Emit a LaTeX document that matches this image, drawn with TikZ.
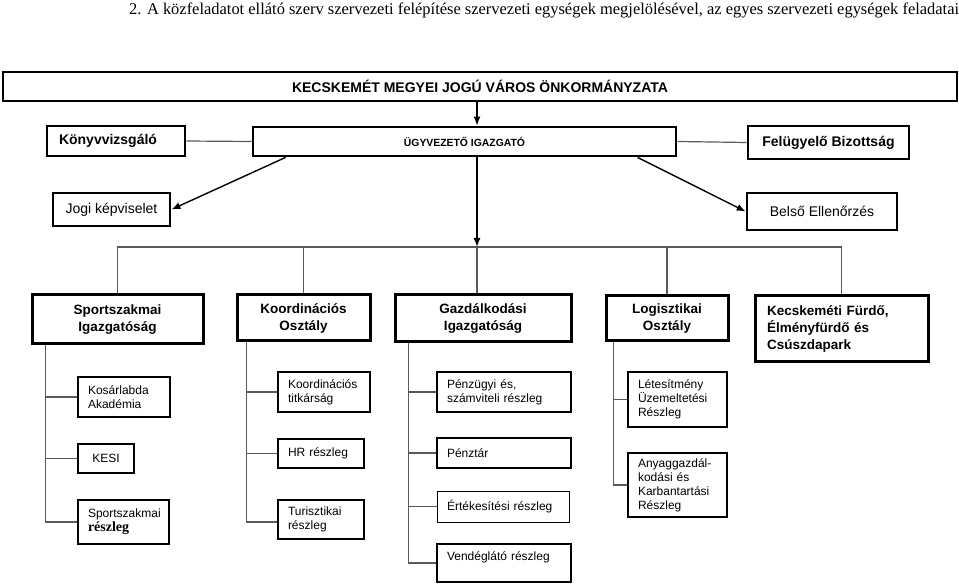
\documentclass[tikz,border=0pt]{standalone}
\usepackage{fontspec}
\setmainfont{Liberation Serif}
\setsansfont{Liberation Sans}
\usetikzlibrary{arrows.meta, positioning}

\begin{document}
\begin{tikzpicture}[
    x=1pt, y=-1pt,
    topbox/.style={rectangle, draw, line width=2.8pt, font=\sffamily\bfseries\fontsize{14}{17}\selectfont, align=center},
    plainbox/.style={topbox, font=\sffamily\fontsize{14}{17}\selectfont},
    unit/.style={rectangle, draw, line width=3pt, font=\sffamily\bfseries\fontsize{13.5}{17}\selectfont, align=center},
    sub/.style={rectangle, draw, line width=2pt, font=\sffamily\fontsize{12}{14}\selectfont, align=left, inner xsep=10pt,
        execute at begin node={\hyphenpenalty=10000\relax\exhyphenpenalty=10000\relax}},
    link/.style={draw=black!65, line width=1.2pt},
    arrow/.style={line width=1.4pt, -{Latex[length=9pt,width=7pt]}}
]
\useasboundingbox (0,0) rectangle (959,585);

% Header line
\node[anchor=base west, inner sep=0pt, font=\fontsize{16.45}{18}\selectfont] (title) at (129,15) {2. A közfeladatot ellátó szerv szervezeti felépítése szervezeti egységek megjelölésével, az egyes szervezeti egységek feladatai};

% Top level
\node[topbox, minimum width=954, minimum height=29] (city) at (480,86.5) {KECSKEMÉT MEGYEI JOGÚ VÁROS ÖNKORMÁNYZATA};
\node[topbox, minimum width=423, minimum height=29, font=\sffamily\bfseries\fontsize{10.4}{12}\selectfont] (ceo) at (464.5,141.5) {ÜGYVEZETŐ IGAZGATÓ};
\node[topbox, minimum height=30, text width=114, align=left, inner xsep=12pt] (audit) at (116,141) {Könyvvizsgáló};
\node[topbox, minimum width=161, minimum height=33] (board) at (828.5,142.5) {Felügyelő Bizottság};
\node[plainbox, minimum width=117, minimum height=33] (legal) at (111.5,209.5) {Jogi képviselet};
\node[plainbox, minimum width=150, minimum height=37] (control) at (822,211.5) {Belső Ellenőrzés};

% Second level
\node[unit, minimum width=171, minimum height=49] (sport) at (117.5,319.5) {Sportszakmai\\Igazgatóság};
\node[unit, minimum width=133, minimum height=46] (coord) at (303.5,318) {Koordinációs\\Osztály};
\node[unit, minimum width=176, minimum height=47] (econ) at (483,318.5) {Gazdálkodási\\Igazgatóság};
\node[unit, minimum width=122, minimum height=45] (logis) at (667,318.5) {Logisztikai\\Osztály};
\node[unit, minimum height=66, text width=149, align=left, inner xsep=12pt] (bath) at (841.5,329) {Kecskeméti Fürdő,\\Élményfürdő és\\Csúszdapark};

% Third level
\node[sub, text width=72, minimum height=40] (basket) at (124,397) {Kosárlabda\\Akadémia};
\node[sub, text width=36, minimum height=29, align=center] (kesi) at (106,458.5) {KESI};
\node[sub, text width=71, minimum height=44] (sportdep) at (123.5,522) {Sportszakmai\\{\rmfamily\bfseries\fontsize{14}{15}\selectfont részleg}};
\node[sub, text width=72, minimum height=40] (secret) at (324,392) {Koordinációs\\titkárság};
\node[sub, text width=66, minimum height=29] (hr) at (321,453.5) {HR részleg};
\node[sub, text width=66, minimum height=39] (tour) at (321,519.5) {Turisztikai\\részleg};
\node[sub, text width=114, minimum height=40] (finance) at (504,392) {Pénzügyi és,\\számviteli részleg};
\node[sub, text width=114, minimum height=30] (cash) at (504,453) {Pénztár};
\node[sub, text width=112, minimum height=31, line width=1pt] (sales) at (503,506.5) {Értékesítési részleg};
\node[sub, text width=114, minimum height=38] (catering) at (504,563) {Vendéglátó részleg\\\mbox{}};
\node[sub, text width=79, minimum height=55] (facility) at (677.5,399.5) {Létesítmény\\Üzemeltetési\\Részleg};
\node[sub, text width=79, minimum height=64] (supply) at (677.5,485) {Anyaggazdál-\\kodási és\\Karbantartási\\Részleg};

% Main spine
\coordinate (spine) at (477,247);
\draw[arrow] (city.south -| spine) -- (ceo.north -| spine);
\draw[arrow] (ceo.south -| spine) -- (spine);
\draw[link] (audit.east) -- (ceo.west);
\draw[link] (ceo.east) -- (board.west);
\draw[arrow] ([xshift=34pt]ceo.south west) -- (legal.east);
\draw[arrow] ([xshift=386pt]ceo.south west) -- (control.west);

% Bus to the units
\draw[link] (sport.north) |- (bath.north |- spine) -- (bath.north);
\draw[link] (coord.north) -- (coord.north |- spine);
\draw[link] (spine) -- (econ.north -| spine);
\draw[link] (logis.north) -- (logis.north |- spine);

% Trunks of the units
\coordinate (t1) at ([xshift=15pt]sport.south west);
\coordinate (t2) at ([xshift=11pt]coord.south west);
\coordinate (t3) at ([xshift=15pt]econ.south west);
\coordinate (t4) at ([xshift=9pt]logis.south west);
\draw[link] (t1) |- (sportdep.west);
\draw[link] (t2) |- ([yshift=-2.5pt]tour.west);
\draw[link] (t3) |- (catering.west);
\draw[link] (t4) |- (supply.west);
\foreach \n in {basket,kesi} \draw[link] (\n.west) -- (\n.west -| t1);
\foreach \n in {secret,hr} \draw[link] (\n.west) -- (\n.west -| t2);
\foreach \n in {finance,cash,sales} \draw[link] (\n.west) -- (\n.west -| t3);
\draw[link] (facility.west) -- (facility.west -| t4);

\end{tikzpicture}
\end{document}
